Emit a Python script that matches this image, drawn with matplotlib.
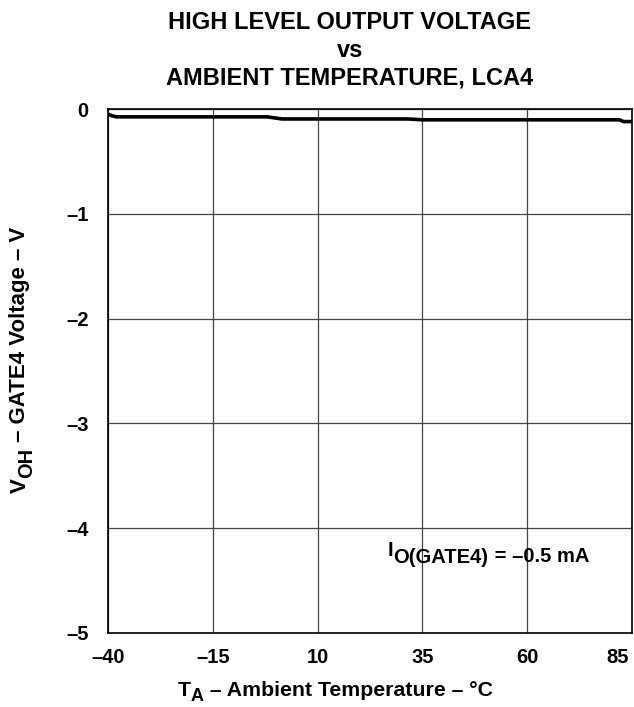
import matplotlib
matplotlib.use('Agg')
import matplotlib.pyplot as plt
from matplotlib.transforms import ScaledTranslation

plt.rcParams['font.family'] = ['Liberation Sans', 'DejaVu Sans']
plt.rcParams['font.weight'] = 'bold'

# gelesen aus dem Bild
temp = [-40, -39, -38, -2, 1.5, 31.5, 35, 82, 83, 85]
voh = [-0.05, -0.065, -0.075, -0.075, -0.095, -0.095, -0.103, -0.103, -0.12, -0.12]

x_ticks = [-40, -15, 10, 35, 60, 85]
x_labels = ['–40', '–15', '10', '35', '60', '85']
y_ticks = [0, -1, -2, -3, -4, -5]
y_labels = ['0', '–1', '–2', '–3', '–4', '–5']

W, H = 634, 707

fig = plt.figure(figsize=(W / 100, H / 100), dpi=100)
ax = fig.add_axes([108 / W, 1 - 633 / H, 524 / W, 524 / H])


def px(x, y):
    return x / W, 1 - y / H


def kette(teile, x, y, fs, rot=0):
    # Text mit Tiefstellung aus Stuecken zusammensetzen
    # teile: (text, groesse relativ, verschiebung nach unten in pt)
    s, g, d = teile[0]
    if rot == 0:
        vor = fig.text(*px(x, y), s, fontsize=fs * g, fontweight='bold', ha='left', va='baseline')
    else:
        vor = fig.text(*px(x, y), s, fontsize=fs * g, fontweight='bold', ha='center', va='bottom',
                       rotation=90)
    alt = d
    for s, g, d in teile[1:]:
        vor = ax.annotate(s, xy=(1, 0) if rot == 0 else (1, 1), xycoords=vor,
                          xytext=(0, alt - d) if rot == 0 else (d - alt, 0),
                          textcoords='offset points', fontsize=fs * g, fontweight='bold',
                          ha='left' if rot == 0 else 'right', va='bottom',
                          rotation=rot, annotation_clip=False)
        alt = d


ax.plot(temp, voh, color='black', lw=2.6, solid_capstyle='butt')

ax.set_xlim(-40, 85)
ax.set_ylim(-5, 0)
ax.set_xticks(x_ticks)
ax.set_xticklabels(x_labels)
ax.set_yticks(y_ticks)
ax.set_yticklabels(y_labels)
ax.tick_params(length=0, labelsize=14.5)
ax.tick_params(axis='x', pad=11)
ax.tick_params(axis='y', pad=14)
ax.grid(True, color='#444444', lw=0.9)
for sp in ax.spines.values():
    sp.set_linewidth(1.2)

# letzte Beschriftung nach innen ruecken
lab = ax.get_xticklabels()[-1]
lab.set_horizontalalignment('right')
lab.set_transform(lab.get_transform() + ScaledTranslation(-3 / 100, 0, fig.dpi_scale_trans))

# Titel
fig.text(*px(350, 85), 'HIGH LEVEL OUTPUT VOLTAGE\nvs\nAMBIENT TEMPERATURE, LCA4',
         ha='center', va='baseline', fontsize=17, fontweight='bold', linespacing=1.27,
         multialignment='center')

# I_O(GATE4) = -0.5 mA
kette([('I', 1, 0), ('O(GATE4)', 1, 5), (' = –0.5 mA', 1, 4)], 388, 556, 14.5)

# Achsenbeschriftungen
kette([('T', 1, 0), ('A', 0.85, 3.5), (' – Ambient Temperature – °C', 1, 0)], 178, 696, 15.3)
kette([('V', 1, 0), ('OH', 0.9, 4), (' – GATE4 Voltage – V', 1, 0)], 20, 493, 16, rot=90)

fig.savefig('out.png', dpi=100)
